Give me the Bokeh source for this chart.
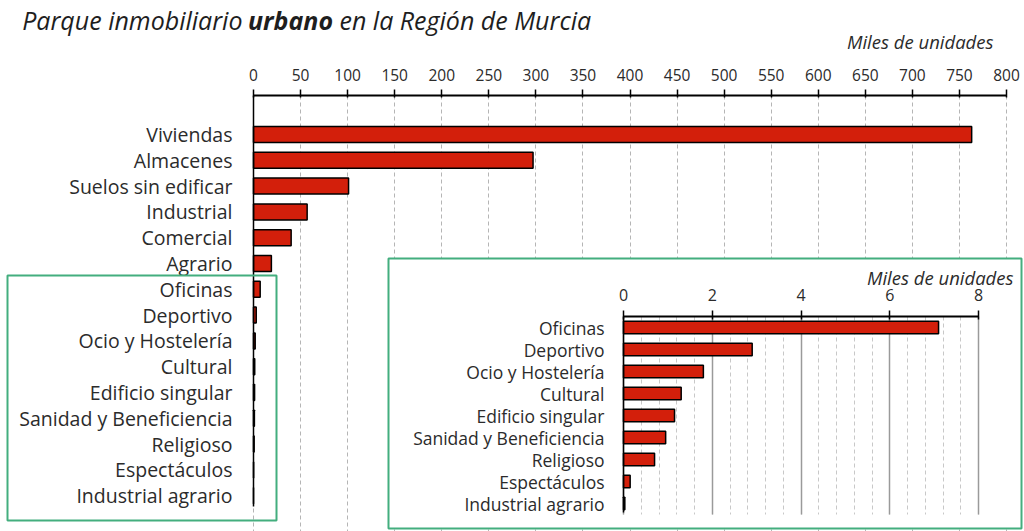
from bokeh.plotting import figure
from bokeh.models import (Range1d, LinearAxis, Grid, FixedTicker, SingleIntervalTicker,
                          BoxAnnotation, Label, ColumnDataSource)
from bokeh.embed import file_html
from bokeh.resources import INLINE

# ---------------- data ----------------
categories = ["Viviendas", "Almacenes", "Suelos sin edificar", "Industrial", "Comercial",
              "Agrario", "Oficinas", "Deportivo", "Ocio y Hostelería", "Cultural",
              "Edificio singular", "Sanidad y Beneficiencia", "Religioso", "Espectáculos",
              "Industrial agrario"]
values = [763, 297, 101, 57, 40, 19, 7.1, 2.9, 1.8, 1.3, 1.15, 0.95, 0.7, 0.15, 0.03]
inset_first = 6
inset_categories = categories[inset_first:]
inset_values = values[inset_first:]
title_parts = ["Parque inmobiliario", "urbano", "en la Región de Murcia"]
unit_label = "Miles de unidades"

# ---------------- geometry helpers (page pixels -> data) ----------------
W, H = 1024, 531
PX_MAIN = 753 / 800.0     # px per unit (main)
ROW_MAIN = 25.8           # px per row (main)
X0_MAIN, Y0_MAIN = 253, 134
PX_IN = 355 / 8.0
ROW_IN = 22.0
X0_IN, Y0_IN = 623, 327


def X(px):
    return (px - X0_MAIN) / PX_MAIN


def Y(py):
    return (py - Y0_MAIN) / ROW_MAIN


def IX(px):
    return (px - X0_IN) / PX_IN


def IY(py):
    return (py - Y0_IN) / ROW_IN


RED = "#d31f0b"
GREEN = "#43ae7e"
TXT = "#2b2b2b"
FONT = "Open Sans"

p = figure(width=W, height=H, output_backend="svg", toolbar_location=None,
           x_range=Range1d(X(0), X(W)), y_range=Range1d(Y(H), Y(0)),
           x_axis_location=None, y_axis_location=None,
           min_border=0, min_border_left=0, min_border_right=0,
           min_border_top=0, min_border_bottom=0)
p.outline_line_color = None
p.background_fill_color = "white"
p.xgrid.visible = False
p.ygrid.visible = False

# ---------------- main chart ----------------
xa = LinearAxis(fixed_location=Y(95), ticker=SingleIntervalTicker(interval=50), bounds=(0, 800))
xa.axis_line_color = "black"
xa.axis_line_width = 2
xa.major_tick_line_color = "black"
xa.major_tick_line_width = 1.5
xa.major_tick_out = 6
xa.major_tick_in = 2
xa.minor_tick_line_color = None
xa.major_label_text_font = FONT
xa.major_label_text_font_size = "15.5px"
xa.major_label_text_color = TXT
xa.major_label_standoff = 9
p.add_layout(xa, "above")

ya = LinearAxis(fixed_location=0, ticker=FixedTicker(ticks=list(range(len(categories)))),
                bounds=(Y(95), Y(506)))
ya.major_label_overrides = {i: c for i, c in enumerate(categories)}
ya.major_tick_line_color = None
ya.major_tick_out = 0
ya.major_tick_in = 0
ya.minor_tick_line_color = None
ya.axis_line_color = "black"
ya.axis_line_width = 1.5
ya.major_label_text_font = FONT
ya.major_label_text_font_size = "19.5px"
ya.major_label_text_color = TXT
ya.major_label_standoff = 21
p.add_layout(ya, "left")

main_grid = Grid(dimension=0, ticker=xa.ticker, bounds=(0, 800), cross_bounds=(Y(95), Y(H)),
                 grid_line_color="#b5b5b5", grid_line_dash="4 3", grid_line_width=1,
                 level="underlay")
p.add_layout(main_grid, "center")

src = ColumnDataSource(dict(y=list(range(len(categories))), v=values, cat=categories))
p.hbar(y="y", left=0, right="v", height=0.62, source=src,
       fill_color=RED, line_color="black", line_width=1.5)

# ---------------- inset ----------------
p.extra_x_ranges = {"ix": Range1d(IX(0), IX(W))}
p.extra_y_ranges = {"iy": Range1d(IY(H), IY(0))}

inset_bg = BoxAnnotation(left=X(388), right=X(1021), top=Y(258), bottom=Y(528),
                         fill_color="white", fill_alpha=1.0,
                         line_color=GREEN, line_alpha=1.0, line_width=2, level="underlay")
p.add_layout(inset_bg, "center")

ix_axis = LinearAxis(x_range_name="ix", y_range_name="iy", fixed_location=IY(316),
                     ticker=SingleIntervalTicker(interval=2, num_minor_ticks=5), bounds=(0, 8))
ix_axis.axis_line_color = "black"
ix_axis.axis_line_width = 2
ix_axis.major_tick_line_color = "black"
ix_axis.major_tick_line_width = 1.5
ix_axis.major_tick_out = 6
ix_axis.major_tick_in = 3
ix_axis.minor_tick_line_color = None
ix_axis.major_label_text_font = FONT
ix_axis.major_label_text_font_size = "16px"
ix_axis.major_label_text_color = TXT
ix_axis.major_label_standoff = 10
p.add_layout(ix_axis, "above")

iy_axis = LinearAxis(x_range_name="ix", y_range_name="iy", fixed_location=0,
                     ticker=FixedTicker(ticks=list(range(len(inset_categories)))),
                     bounds=(IY(316), IY(512)))
iy_axis.major_label_overrides = {i: c for i, c in enumerate(inset_categories)}
iy_axis.axis_line_color = "black"
iy_axis.axis_line_width = 1.5
iy_axis.major_tick_line_color = None
iy_axis.major_tick_out = 0
iy_axis.major_tick_in = 0
iy_axis.minor_tick_line_color = None
iy_axis.major_label_text_font = FONT
iy_axis.major_label_text_font_size = "17.5px"
iy_axis.major_label_text_color = TXT
iy_axis.major_label_standoff = 19
p.add_layout(iy_axis, "left")

inset_grid = Grid(dimension=0, x_range_name="ix", y_range_name="iy", ticker=ix_axis.ticker,
                  bounds=(0, 8), cross_bounds=(IY(316), IY(514)),
                  grid_line_color="#9a9a9a", grid_line_width=1.5,
                  minor_grid_line_color="#c8c8c8", minor_grid_line_dash="4 3",
                  minor_grid_line_width=1, level="underlay")
p.add_layout(inset_grid, "center")

isrc = ColumnDataSource(dict(y=list(range(len(inset_categories))), v=inset_values))
p.hbar(y="y", left=0, right="v", height=0.56, source=isrc, x_range_name="ix", y_range_name="iy",
       fill_color=RED, line_color="black", line_width=1.5)

# left highlight box
left_box = BoxAnnotation(left=X(7), right=X(276), top=Y(275), bottom=Y(520),
                         fill_color=None, line_color=GREEN, line_alpha=1.0, line_width=2,
                         level="overlay")
p.add_layout(left_box)

# ---------------- texts ----------------
common = dict(text_font=FONT, text_color="#1e1e1e", text_baseline="middle", text_font_size="25px")
p.add_layout(Label(x=X(242), y=Y(19), text=title_parts[0], text_align="right",
                   text_font_style="italic", **common))
p.add_layout(Label(x=X(290), y=Y(19), text=title_parts[1], text_align="center",
                   text_font_style="bold italic", **common))
p.add_layout(Label(x=X(339), y=Y(19), text=title_parts[2], text_align="left",
                   text_font_style="italic", **common))

p.add_layout(Label(x=X(993), y=Y(41), text=unit_label, text_align="right", text_baseline="middle",
                   text_font=FONT, text_font_style="italic", text_font_size="18.5px", text_color=TXT))
p.add_layout(Label(x=X(1013), y=Y(277), text=unit_label, text_align="right", text_baseline="middle",
                   text_font=FONT, text_font_style="italic", text_font_size="18.5px", text_color=TXT))

open("out.html", "w").write(file_html(p, INLINE))
